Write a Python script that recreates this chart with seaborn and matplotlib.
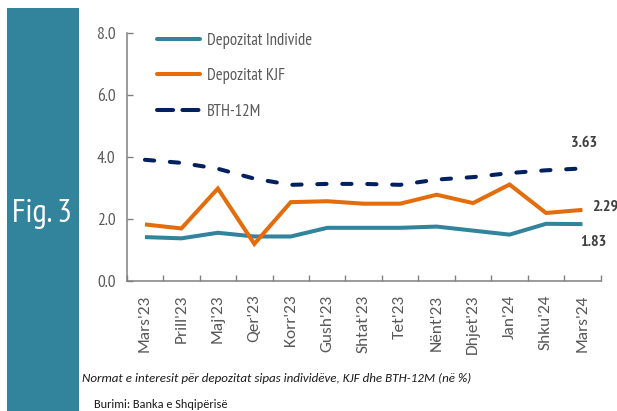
import matplotlib
matplotlib.use("Agg")
import matplotlib.pyplot as plt
from matplotlib import font_manager as fm
from matplotlib.patches import Rectangle
import seaborn as sns
import pandas as pd
import numpy as np

months = ["Mars'23", "Prill'23", "Maj'23", "Qer'23", "Korr'23", "Gush'23", "Shtat'23",
          "Tet'23", "Nënt'23", "Dhjet'23", "Jan'24", "Shku'24", "Mars'24"]
individe = [1.41, 1.37, 1.55, 1.43, 1.43, 1.71, 1.71, 1.71, 1.75, 1.62, 1.49, 1.84, 1.83]
kjf = [1.82, 1.69, 2.98, 1.19, 2.54, 2.57, 2.49, 2.49, 2.78, 2.51, 3.11, 2.19, 2.29]
bth = [3.91, 3.81, 3.62, 3.30, 3.10, 3.13, 3.13, 3.10, 3.27, 3.35, 3.48, 3.57, 3.63]
series_names = ["Depozitat Individe", "Depozitat KJF", "BTH-12M"]
yticks = [0.0, 2.0, 4.0, 6.0, 8.0]

names = {f.name for f in fm.fontManager.ttflist}
def pick(*cands):
    for c in cands:
        if c in names:
            return c
    return "DejaVu Sans"
narrow = pick("PT Sans Narrow", "Archivo Narrow", "Liberation Sans Narrow", "Carlito")
calib = pick("Carlito", "Liberation Sans")

sns.set_theme(style="white")
plt.rcParams['font.family'] = [narrow, 'DejaVu Sans']

df = pd.DataFrame({"month": months * 3,
                   "x": list(range(len(months))) * 3,
                   "value": individe + kjf + bth,
                   "series": [series_names[0]] * 13 + [series_names[1]] * 13 + [series_names[2]] * 13})

fig = plt.figure(figsize=(6.17, 4.11), dpi=100)
ax = fig.add_axes([126.7 / 617, 1 - 280.7 / 411, 474 / 617, 247.4 / 411])

colors = {series_names[0]: "#31849B", series_names[1]: "#E46C0A", series_names[2]: "#002060"}
sns.lineplot(data=df, x="x", y="value", hue="series", style="series",
             palette=colors, dashes={series_names[0]: "", series_names[1]: "",
                                     series_names[2]: (2.3, 3.9)},
             linewidth=2.9, ax=ax, sort=False, legend=True)
for l in ax.lines:
    l.set_solid_capstyle("butt")
    l.set_dash_capstyle("round")
    l.set_solid_joinstyle("miter")

ax.set_xlim(-0.5, len(months) - 0.5)
ax.set_ylim(0, 8)
ax.set_yticks(yticks)
ax.set_yticklabels([f"{v:.1f}" for v in yticks], fontsize=12.5, color="#595959")
ax.set_xticks(range(len(months)))
ax.set_xticklabels(months, rotation=90, fontsize=12.5, color="#595959", family=[calib, "DejaVu Sans"])
ax.set_xticks(np.arange(-0.5, len(months), 1.0), minor=True)
ax.tick_params(axis="x", which="major", length=0, pad=10)
ax.tick_params(axis="x", which="minor", length=4.5, color="#808080", width=1, direction="in")
ax.tick_params(axis="y", which="major", length=4.5, color="#808080", width=1, direction="in", pad=8)
ax.xaxis.set_ticks_position("bottom")
ax.yaxis.set_ticks_position("left")
ax.set_xlabel("")
ax.set_ylabel("")
for s in ["top", "right"]:
    ax.spines[s].set_visible(False)
for s in ["left", "bottom"]:
    ax.spines[s].set_color("#808080")
    ax.spines[s].set_linewidth(1.1)

leg = ax.legend(loc="upper left", bbox_to_anchor=(30.3 / 474, 1.003), frameon=False,
                fontsize=12, handlelength=2.6, labelspacing=1.17, handletextpad=0.42,
                borderpad=0, borderaxespad=0)
for t in leg.get_texts():
    t.set_color("#595959")
for h in leg.get_lines():
    h.set_linewidth(2.9)
    h.set_dash_capstyle("round")
    h.set_solid_capstyle("round")
leg.get_lines()[2].set_dashes((4.0, 2.3))

last = len(months) - 1
ax.annotate(f"{bth[-1]:.2f}", (last, bth[-1]), xytext=(1, 18.5), textcoords="offset points",
            ha="center", va="center", fontsize=11.5, fontweight="bold", color="#404040")
ax.annotate(f"{kjf[-1]:.2f}", (last, kjf[-1]), xytext=(7, 2), textcoords="offset points",
            ha="left", va="center", fontsize=11.5, fontweight="bold", color="#404040")
ax.annotate(f"{individe[-1]:.2f}", (last, individe[-1]), xytext=(7.5, -12.6), textcoords="offset points",
            ha="center", va="center", fontsize=11.5, fontweight="bold", color="#404040")

fig.patches.append(Rectangle((6.7 / 617, 0), 72.6 / 617, 1 - 8.3 / 411, transform=fig.transFigure,
                             facecolor="#31849B", edgecolor="none", zorder=0))
fig.text(42.2 / 617, 1 - 221.7 / 411, "Fig. 3", color="white", fontsize=23.5, ha="center", va="baseline")
fig.text(82 / 617, 1 - 378 / 411, "Normat e interesit për depozitat sipas individëve, KJF dhe BTH-12M (në %)",
         fontsize=9.4, style="italic", color="#1a1a1a", ha="left", va="center",
         family=[calib, "DejaVu Sans"])
fig.text(94 / 617, 1 - 404 / 411, "Burimi: Banka e Shqipërisë", fontsize=8.8, color="#1a1a1a",
         ha="left", va="center", family=[calib, "DejaVu Sans"])

fig.savefig("out.png", dpi=100)
